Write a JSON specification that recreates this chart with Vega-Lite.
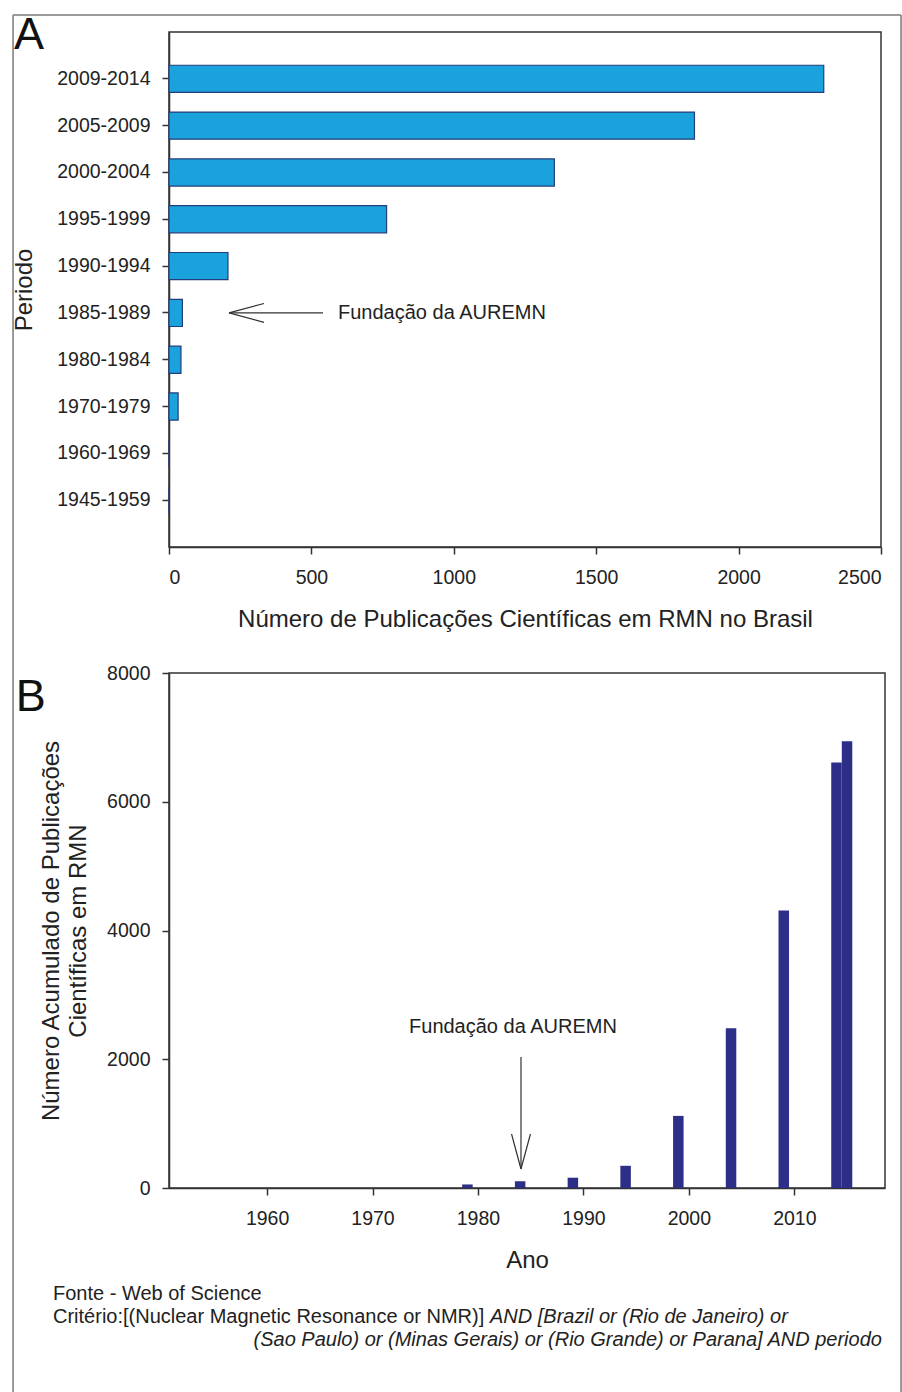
{
  "$schema": "https://vega.github.io/schema/vega-lite/v6.json",
  "background": "white",
  "padding": {"left": 11, "top": 12, "right": 1, "bottom": 0},
  "autosize": {"type": "pad"},
  "bounds": "flush",
  "spacing": 126,
  "config": {
    "font": "Liberation Sans",
    "view": {"stroke": "#333", "strokeWidth": 1.5},
    "axis": {
      "labelFont": "Liberation Sans", "titleFont": "Liberation Sans",
      "labelFontSize": 19.5, "titleFontSize": 24, "titleFontWeight": "normal",
      "labelColor": "#222", "titleColor": "#222",
      "domainColor": "#333", "domainWidth": 1.5,
      "tickColor": "#333", "tickWidth": 1.5, "tickSize": 7, "grid": false
    }
  },
  "vconcat": [
    {
      "width": 712,
      "height": 515,
      "layer": [
        {
          "data": {"values": [
            {"periodo": "2009-2014", "publicacoes": 2299},
            {"periodo": "2005-2009", "publicacoes": 1845},
            {"periodo": "2000-2004", "publicacoes": 1353},
            {"periodo": "1995-1999", "publicacoes": 764},
            {"periodo": "1990-1994", "publicacoes": 207},
            {"periodo": "1985-1989", "publicacoes": 47},
            {"periodo": "1980-1984", "publicacoes": 42},
            {"periodo": "1970-1979", "publicacoes": 32},
            {"periodo": "1960-1969", "publicacoes": 0},
            {"periodo": "1945-1959", "publicacoes": 0}
          ]},
          "mark": {"type": "bar", "fill": "#19a2dc", "stroke": "#263c7c", "strokeWidth": 1.2},
          "encoding": {
            "y": {
              "field": "periodo", "type": "nominal", "sort": null,
              "scale": {
                "domain": ["2009-2014", "2005-2009", "2000-2004", "1995-1999", "1990-1994", "1985-1989", "1980-1984", "1970-1979", "1960-1969", "1945-1959"],
                "paddingInner": 0.42, "paddingOuter": 0.71
              },
              "axis": {"title": "Periodo", "labelPadding": 12, "titlePadding": 20}
            },
            "x": {
              "field": "publicacoes", "type": "quantitative",
              "scale": {"domain": [0, 2500], "nice": false, "padding": 0},
              "axis": {"title": "Número de Publicações Científicas em RMN no Brasil", "values": [0, 500, 1000, 1500, 2000, 2500], "format": "d", "labelPadding": 14, "titlePadding": 21}
            }
          }
        },
        {
          "data": {"values": [{}]},
          "mark": {"type": "rule", "color": "#333", "strokeWidth": 1.2},
          "encoding": {"x": {"datum": 210.7}, "x2": {"datum": 540.7}, "y": {"datum": "1985-1989", "type": "nominal"}}
        },
        {
          "data": {"values": [{}]},
          "mark": {"type": "point", "shape": "M0,0L2,-0.54M0,0L2,0.54", "size": 1225, "filled": false, "color": "#333", "strokeWidth": 1.2, "opacity": 1},
          "encoding": {"x": {"datum": 210.7}, "y": {"datum": "1985-1989", "type": "nominal"}}
        },
        {
          "data": {"values": [{}]},
          "mark": {"type": "text", "align": "left", "baseline": "middle", "fontSize": 20, "color": "#222"},
          "encoding": {"x": {"datum": 593.4}, "y": {"datum": "1985-1989", "type": "nominal"}, "text": {"value": "Fundação da AUREMN"}}
        }
      ]
    },
    {
      "width": 716,
      "height": 515,
      "layer": [
        {
          "data": {"values": [
            {"ano": 1979, "acumulado": 55},
            {"ano": 1984, "acumulado": 105},
            {"ano": 1989, "acumulado": 160},
            {"ano": 1994, "acumulado": 345},
            {"ano": 1999, "acumulado": 1120},
            {"ano": 2004, "acumulado": 2480},
            {"ano": 2009, "acumulado": 4310},
            {"ano": 2014, "acumulado": 6610},
            {"ano": 2015, "acumulado": 6940}
          ]},
          "mark": {"type": "bar", "color": "#2c2e87", "width": 10.5},
          "encoding": {
            "x": {
              "field": "ano", "type": "quantitative",
              "scale": {"domain": [1950.7, 2018.6], "nice": false, "zero": false, "padding": 0},
              "axis": {"title": "Ano", "values": [1960, 1970, 1980, 1990, 2000, 2010], "format": "d", "labelPadding": 14, "titlePadding": 21}
            },
            "y": {
              "field": "acumulado", "type": "quantitative",
              "scale": {"domain": [0, 8000], "nice": false, "padding": 0},
              "axis": {"title": ["Número Acumulado de Publicações", "Científicas em RMN"], "values": [0, 2000, 4000, 6000, 8000], "format": "d", "labelPadding": 12, "titlePadding": 16, "titleLineHeight": 27}
            }
          }
        },
        {
          "data": {"values": [{}]},
          "mark": {"type": "rule", "color": "#333", "strokeWidth": 1.2},
          "encoding": {"x": {"datum": 1984.08}, "y": {"datum": 2035}, "y2": {"datum": 295}}
        },
        {
          "data": {"values": [{}]},
          "mark": {"type": "point", "shape": "M0,0L-0.54,-2M0,0L0.54,-2", "size": 1225, "filled": false, "color": "#333", "strokeWidth": 1.2, "opacity": 1},
          "encoding": {"x": {"datum": 1984.08}, "y": {"datum": 295}}
        },
        {
          "data": {"values": [{}]},
          "mark": {"type": "text", "align": "center", "baseline": "alphabetic", "fontSize": 20, "color": "#222"},
          "encoding": {"x": {"datum": 1983.32}, "y": {"datum": 2410}, "text": {"value": "Fundação da AUREMN"}}
        },
        {
          "data": {"values": [{}]},
          "mark": {"type": "rule", "color": "#7a7a7a", "strokeWidth": 1.5},
          "encoding": {"x": {"datum": 1935.91}, "y": {"datum": 18221}, "y2": {"datum": -3200}}
        },
        {
          "data": {"values": [{}]},
          "mark": {"type": "rule", "color": "#7a7a7a", "strokeWidth": 1.5},
          "encoding": {"x": {"datum": 2020.12}, "y": {"datum": 18221}, "y2": {"datum": -3200}}
        },
        {
          "data": {"values": [{}]},
          "mark": {"type": "rule", "color": "#7a7a7a", "strokeWidth": 1.5},
          "encoding": {"x": {"datum": 1935.91}, "x2": {"datum": 2020.12}, "y": {"datum": 18221}}
        },
        {
          "data": {"values": [{}]},
          "mark": {"type": "text", "align": "left", "baseline": "alphabetic", "fontSize": 45, "color": "#111"},
          "encoding": {"x": {"datum": 1936.0}, "y": {"datum": 17693}, "text": {"value": "A"}}
        },
        {
          "data": {"values": [{}]},
          "mark": {"type": "text", "align": "left", "baseline": "alphabetic", "fontSize": 45, "color": "#111"},
          "encoding": {"x": {"datum": 1936.16}, "y": {"datum": 7410}, "text": {"value": "B"}}
        },
        {
          "data": {"values": [{}]},
          "mark": {"type": "text", "align": "left", "baseline": "alphabetic", "fontSize": 20, "color": "#222"},
          "encoding": {"x": {"datum": 1939.7}, "y": {"datum": -1740}, "text": {"value": "Fonte - Web of Science"}}
        },
        {
          "data": {"values": [{}]},
          "mark": {"type": "text", "align": "left", "baseline": "alphabetic", "fontSize": 20, "color": "#222"},
          "encoding": {"x": {"datum": 1939.7}, "y": {"datum": -2097}, "text": {"value": "Critério:[(Nuclear Magnetic Resonance or NMR)]"}}
        },
        {
          "data": {"values": [{}]},
          "mark": {"type": "text", "align": "left", "baseline": "alphabetic", "fontSize": 20, "fontStyle": "italic", "color": "#222"},
          "encoding": {"x": {"datum": 1981.14}, "y": {"datum": -2097}, "text": {"value": "AND [Brazil or (Rio de Janeiro) or"}}
        },
        {
          "data": {"values": [{}]},
          "mark": {"type": "text", "align": "right", "baseline": "alphabetic", "fontSize": 20, "fontStyle": "italic", "color": "#222"},
          "encoding": {"x": {"datum": 2018.31}, "y": {"datum": -2454}, "text": {"value": "(Sao Paulo) or (Minas Gerais) or (Rio Grande) or Parana] AND periodo"}}
        }
      ]
    }
  ]
}
